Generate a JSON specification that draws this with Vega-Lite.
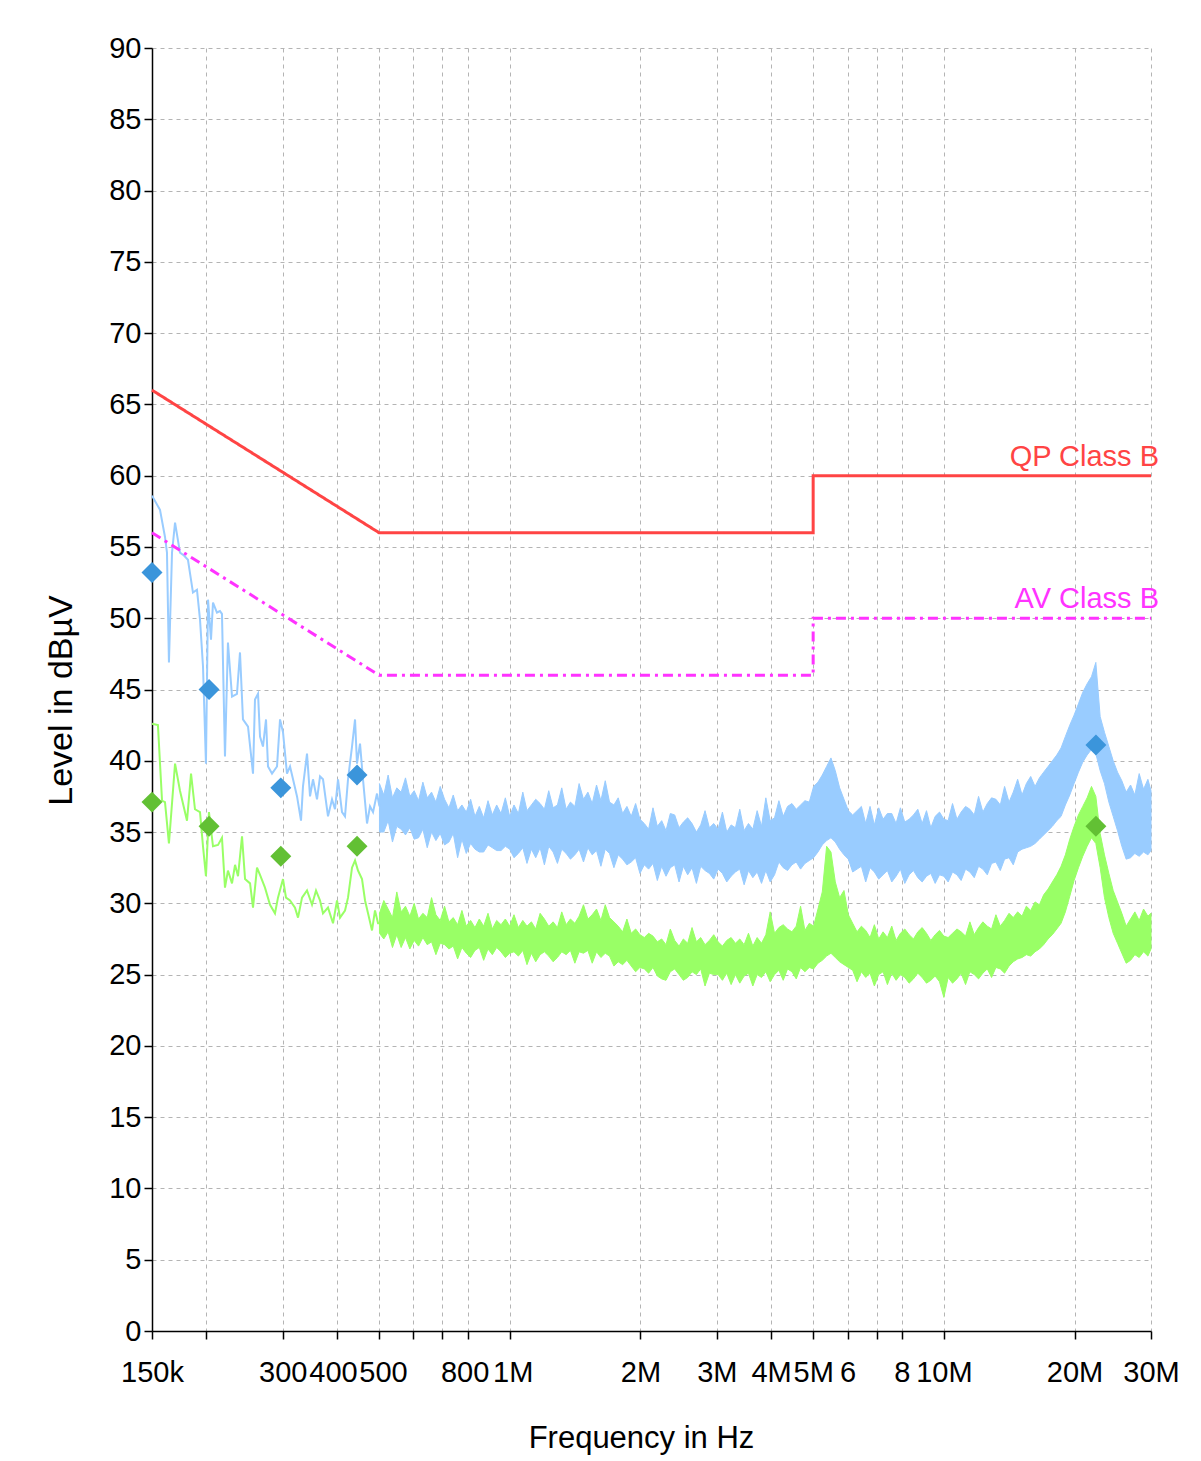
{
  "$schema": "https://vega.github.io/schema/vega-lite/v6.json",
  "width": 999,
  "height": 1283,
  "autosize": {"type": "none"},
  "padding": {"left": 152, "top": 48, "right": 50, "bottom": 130},
  "background": "white",
  "datasets": {
    "dense": [
      {"f":501.2,"pkHi":38.4,"pkLo":35.0,"avHi":29.3,"avLo":27.9},
      {"f":512.9,"pkHi":37.6,"pkLo":35.0,"avHi":30.2,"avLo":27.5},
      {"f":524.8,"pkHi":39.0,"pkLo":35.8,"avHi":29.6,"avLo":28.0},
      {"f":537.0,"pkHi":37.4,"pkLo":34.3,"avHi":29.0,"avLo":26.9},
      {"f":549.5,"pkHi":38.1,"pkLo":35.4,"avHi":30.8,"avLo":27.8},
      {"f":562.3,"pkHi":37.8,"pkLo":35.2,"avHi":29.4,"avLo":26.9},
      {"f":575.4,"pkHi":38.8,"pkLo":34.8,"avHi":29.8,"avLo":27.6},
      {"f":588.8,"pkHi":37.5,"pkLo":35.3,"avHi":29.1,"avLo":26.8},
      {"f":602.6,"pkHi":37.9,"pkLo":34.5,"avHi":30.0,"avLo":27.4},
      {"f":616.6,"pkHi":37.2,"pkLo":34.6,"avHi":28.9,"avLo":27.0},
      {"f":631.0,"pkHi":38.5,"pkLo":35.2,"avHi":29.3,"avLo":27.6},
      {"f":645.7,"pkHi":37.4,"pkLo":33.9,"avHi":29.0,"avLo":27.1},
      {"f":660.7,"pkHi":37.8,"pkLo":35.0,"avHi":30.4,"avLo":27.3},
      {"f":676.1,"pkHi":37.1,"pkLo":34.4,"avHi":29.2,"avLo":26.4},
      {"f":691.8,"pkHi":38.2,"pkLo":34.9,"avHi":28.8,"avLo":27.2},
      {"f":707.9,"pkHi":37.3,"pkLo":34.1,"avHi":29.8,"avLo":27.1},
      {"f":724.4,"pkHi":36.7,"pkLo":34.3,"avHi":28.7,"avLo":26.8},
      {"f":741.3,"pkHi":37.6,"pkLo":34.9,"avHi":29.0,"avLo":27.0},
      {"f":758.6,"pkHi":36.5,"pkLo":33.2,"avHi":28.5,"avLo":26.1},
      {"f":776.2,"pkHi":36.9,"pkLo":34.5,"avHi":29.5,"avLo":26.9},
      {"f":794.3,"pkHi":36.4,"pkLo":33.5,"avHi":28.4,"avLo":26.5},
      {"f":812.8,"pkHi":37.3,"pkLo":34.2,"avHi":28.8,"avLo":26.2},
      {"f":831.8,"pkHi":36.1,"pkLo":33.8,"avHi":28.3,"avLo":26.7},
      {"f":851.1,"pkHi":36.8,"pkLo":33.6,"avHi":28.9,"avLo":26.9},
      {"f":871.0,"pkHi":36.0,"pkLo":33.6,"avHi":28.4,"avLo":26.0},
      {"f":891.3,"pkHi":37.2,"pkLo":34.1,"avHi":29.3,"avLo":26.8},
      {"f":912.0,"pkHi":36.2,"pkLo":33.9,"avHi":28.2,"avLo":26.4},
      {"f":933.3,"pkHi":36.9,"pkLo":33.7,"avHi":28.8,"avLo":26.9},
      {"f":955.0,"pkHi":36.3,"pkLo":33.7,"avHi":28.5,"avLo":26.6},
      {"f":977.2,"pkHi":37.4,"pkLo":34.0,"avHi":28.9,"avLo":26.2},
      {"f":1000,"pkHi":36.1,"pkLo":33.8,"avHi":28.4,"avLo":26.5},
      {"f":1023,"pkHi":36.9,"pkLo":33.2,"avHi":29.2,"avLo":26.6},
      {"f":1047,"pkHi":36.3,"pkLo":33.5,"avHi":28.3,"avLo":26.3},
      {"f":1072,"pkHi":37.8,"pkLo":33.9,"avHi":28.8,"avLo":26.7},
      {"f":1096,"pkHi":36.5,"pkLo":32.8,"avHi":28.4,"avLo":25.7},
      {"f":1122,"pkHi":36.9,"pkLo":33.8,"avHi":28.7,"avLo":26.5},
      {"f":1148,"pkHi":37.3,"pkLo":33.2,"avHi":28.2,"avLo":25.9},
      {"f":1175,"pkHi":37.0,"pkLo":33.9,"avHi":29.3,"avLo":26.4},
      {"f":1202,"pkHi":36.6,"pkLo":32.7,"avHi":28.9,"avLo":26.6},
      {"f":1230,"pkHi":37.9,"pkLo":34.0,"avHi":28.4,"avLo":26.3},
      {"f":1259,"pkHi":36.7,"pkLo":33.6,"avHi":28.7,"avLo":25.9},
      {"f":1288,"pkHi":36.9,"pkLo":32.8,"avHi":28.3,"avLo":26.2},
      {"f":1318,"pkHi":38.1,"pkLo":33.8,"avHi":29.4,"avLo":26.6},
      {"f":1349,"pkHi":36.6,"pkLo":33.5,"avHi":28.5,"avLo":26.4},
      {"f":1380,"pkHi":37.1,"pkLo":33.1,"avHi":28.9,"avLo":26.7},
      {"f":1413,"pkHi":36.8,"pkLo":33.4,"avHi":28.6,"avLo":25.8},
      {"f":1445,"pkHi":38.4,"pkLo":33.8,"avHi":29.1,"avLo":26.6},
      {"f":1479,"pkHi":37.3,"pkLo":32.9,"avHi":29.9,"avLo":26.5},
      {"f":1514,"pkHi":37.8,"pkLo":33.9,"avHi":28.9,"avLo":26.7},
      {"f":1549,"pkHi":37.0,"pkLo":33.4,"avHi":29.2,"avLo":25.8},
      {"f":1585,"pkHi":38.3,"pkLo":33.7,"avHi":29.6,"avLo":26.6},
      {"f":1622,"pkHi":37.2,"pkLo":32.6,"avHi":28.8,"avLo":26.2},
      {"f":1660,"pkHi":38.6,"pkLo":33.8,"avHi":29.9,"avLo":26.5},
      {"f":1698,"pkHi":37.1,"pkLo":33.5,"avHi":29.0,"avLo":26.3},
      {"f":1738,"pkHi":36.9,"pkLo":32.5,"avHi":28.7,"avLo":25.6},
      {"f":1778,"pkHi":37.4,"pkLo":33.4,"avHi":28.4,"avLo":25.9},
      {"f":1820,"pkHi":36.3,"pkLo":33.1,"avHi":28.0,"avLo":25.7},
      {"f":1862,"pkHi":36.8,"pkLo":32.7,"avHi":28.9,"avLo":26.0},
      {"f":1905,"pkHi":36.1,"pkLo":32.9,"avHi":27.9,"avLo":25.6},
      {"f":1950,"pkHi":37.0,"pkLo":33.2,"avHi":28.2,"avLo":25.2},
      {"f":1995,"pkHi":35.9,"pkLo":32.1,"avHi":27.8,"avLo":25.5},
      {"f":2042,"pkHi":35.6,"pkLo":32.7,"avHi":27.6,"avLo":25.4},
      {"f":2089,"pkHi":35.2,"pkLo":32.4,"avHi":27.9,"avLo":25.1},
      {"f":2138,"pkHi":36.7,"pkLo":32.8,"avHi":27.7,"avLo":25.5},
      {"f":2188,"pkHi":35.4,"pkLo":31.6,"avHi":27.3,"avLo":24.9},
      {"f":2239,"pkHi":35.8,"pkLo":32.6,"avHi":27.5,"avLo":24.7},
      {"f":2291,"pkHi":35.1,"pkLo":31.9,"avHi":27.1,"avLo":24.6},
      {"f":2344,"pkHi":36.3,"pkLo":32.5,"avHi":28.2,"avLo":25.2},
      {"f":2399,"pkHi":36.2,"pkLo":32.7,"avHi":27.4,"avLo":25.4},
      {"f":2455,"pkHi":35.3,"pkLo":31.5,"avHi":27.0,"avLo":25.0},
      {"f":2512,"pkHi":35.7,"pkLo":32.6,"avHi":27.5,"avLo":24.6},
      {"f":2570,"pkHi":36.0,"pkLo":32.0,"avHi":27.2,"avLo":24.8},
      {"f":2630,"pkHi":35.6,"pkLo":32.5,"avHi":28.3,"avLo":25.2},
      {"f":2692,"pkHi":35.0,"pkLo":31.4,"avHi":27.3,"avLo":25.0},
      {"f":2754,"pkHi":35.5,"pkLo":32.6,"avHi":27.6,"avLo":25.4},
      {"f":2818,"pkHi":36.5,"pkLo":32.3,"avHi":27.1,"avLo":24.2},
      {"f":2884,"pkHi":35.3,"pkLo":32.1,"avHi":27.4,"avLo":25.1},
      {"f":2951,"pkHi":35.6,"pkLo":31.7,"avHi":27.8,"avLo":25.0},
      {"f":3020,"pkHi":35.2,"pkLo":32.4,"avHi":27.3,"avLo":25.0},
      {"f":3090,"pkHi":36.4,"pkLo":32.1,"avHi":27.0,"avLo":24.6},
      {"f":3162,"pkHi":35.0,"pkLo":31.5,"avHi":27.4,"avLo":25.1},
      {"f":3236,"pkHi":35.5,"pkLo":31.9,"avHi":27.6,"avLo":24.3},
      {"f":3311,"pkHi":35.3,"pkLo":32.2,"avHi":27.2,"avLo":25.0},
      {"f":3388,"pkHi":36.6,"pkLo":32.4,"avHi":27.5,"avLo":24.4},
      {"f":3467,"pkHi":35.1,"pkLo":31.3,"avHi":27.1,"avLo":24.9},
      {"f":3548,"pkHi":35.6,"pkLo":32.3,"avHi":27.9,"avLo":25.1},
      {"f":3631,"pkHi":35.2,"pkLo":31.8,"avHi":27.0,"avLo":24.2},
      {"f":3715,"pkHi":36.5,"pkLo":32.2,"avHi":27.6,"avLo":25.0},
      {"f":3802,"pkHi":35.4,"pkLo":31.4,"avHi":27.2,"avLo":24.8},
      {"f":3890,"pkHi":37.4,"pkLo":32.3,"avHi":27.8,"avLo":25.2},
      {"f":3981,"pkHi":35.8,"pkLo":31.5,"avHi":29.4,"avLo":24.5},
      {"f":4074,"pkHi":36.0,"pkLo":32.0,"avHi":27.9,"avLo":25.0},
      {"f":4169,"pkHi":37.2,"pkLo":32.9,"avHi":28.3,"avLo":25.3},
      {"f":4266,"pkHi":36.1,"pkLo":32.5,"avHi":28.5,"avLo":24.6},
      {"f":4365,"pkHi":36.8,"pkLo":32.3,"avHi":28.2,"avLo":25.4},
      {"f":4467,"pkHi":37.0,"pkLo":32.7,"avHi":28.0,"avLo":25.2},
      {"f":4571,"pkHi":36.6,"pkLo":32.9,"avHi":28.4,"avLo":24.7},
      {"f":4677,"pkHi":36.9,"pkLo":32.4,"avHi":29.8,"avLo":25.5},
      {"f":4786,"pkHi":37.2,"pkLo":32.8,"avHi":28.1,"avLo":25.2},
      {"f":4898,"pkHi":37.1,"pkLo":33.0,"avHi":28.6,"avLo":25.5},
      {"f":5012,"pkHi":38.2,"pkLo":33.2,"avHi":28.4,"avLo":25.4},
      {"f":5129,"pkHi":38.5,"pkLo":33.6,"avHi":29.6,"avLo":25.8},
      {"f":5248,"pkHi":39.0,"pkLo":34.1,"avHi":30.8,"avLo":26.0},
      {"f":5370,"pkHi":39.6,"pkLo":34.4,"avHi":34.0,"avLo":26.3},
      {"f":5495,"pkHi":40.2,"pkLo":34.6,"avHi":33.6,"avLo":26.5},
      {"f":5623,"pkHi":39.3,"pkLo":34.3,"avHi":31.5,"avLo":26.2},
      {"f":5754,"pkHi":38.1,"pkLo":33.8,"avHi":30.4,"avLo":25.9},
      {"f":5888,"pkHi":37.3,"pkLo":33.4,"avHi":30.9,"avLo":25.7},
      {"f":6026,"pkHi":36.5,"pkLo":33.1,"avHi":29.2,"avLo":25.5},
      {"f":6166,"pkHi":36.2,"pkLo":32.2,"avHi":28.6,"avLo":25.3},
      {"f":6310,"pkHi":36.5,"pkLo":32.4,"avHi":28.0,"avLo":24.5},
      {"f":6457,"pkHi":36.8,"pkLo":32.6,"avHi":28.4,"avLo":25.2},
      {"f":6607,"pkHi":35.6,"pkLo":31.5,"avHi":28.1,"avLo":24.8},
      {"f":6761,"pkHi":36.8,"pkLo":32.5,"avHi":27.6,"avLo":25.1},
      {"f":6918,"pkHi":35.5,"pkLo":32.2,"avHi":28.5,"avLo":24.2},
      {"f":7079,"pkHi":36.7,"pkLo":31.7,"avHi":27.5,"avLo":25.0},
      {"f":7244,"pkHi":35.9,"pkLo":32.0,"avHi":28.0,"avLo":25.2},
      {"f":7413,"pkHi":36.3,"pkLo":32.3,"avHi":27.6,"avLo":24.3},
      {"f":7586,"pkHi":36.3,"pkLo":31.5,"avHi":28.4,"avLo":25.1},
      {"f":7762,"pkHi":35.6,"pkLo":31.9,"avHi":27.4,"avLo":24.6},
      {"f":7943,"pkHi":36.7,"pkLo":32.4,"avHi":27.9,"avLo":25.0},
      {"f":8128,"pkHi":35.7,"pkLo":31.4,"avHi":28.2,"avLo":24.8},
      {"f":8318,"pkHi":35.9,"pkLo":32.0,"avHi":27.8,"avLo":24.4},
      {"f":8511,"pkHi":36.2,"pkLo":32.3,"avHi":27.5,"avLo":24.7},
      {"f":8710,"pkHi":36.6,"pkLo":31.8,"avHi":28.0,"avLo":25.1},
      {"f":8913,"pkHi":35.6,"pkLo":31.5,"avHi":28.3,"avLo":24.8},
      {"f":9120,"pkHi":36.5,"pkLo":31.9,"avHi":27.9,"avLo":24.4},
      {"f":9333,"pkHi":35.3,"pkLo":32.1,"avHi":27.4,"avLo":24.6},
      {"f":9550,"pkHi":36.1,"pkLo":31.4,"avHi":27.8,"avLo":24.9},
      {"f":9772,"pkHi":36.4,"pkLo":32.0,"avHi":28.1,"avLo":24.5},
      {"f":10000,"pkHi":35.9,"pkLo":31.9,"avHi":27.7,"avLo":23.4},
      {"f":10230,"pkHi":35.8,"pkLo":31.5,"avHi":27.6,"avLo":24.8},
      {"f":10470,"pkHi":37.0,"pkLo":32.2,"avHi":27.9,"avLo":24.4},
      {"f":10720,"pkHi":35.9,"pkLo":32.0,"avHi":28.2,"avLo":24.7},
      {"f":10960,"pkHi":36.4,"pkLo":31.6,"avHi":28.0,"avLo":25.1},
      {"f":11220,"pkHi":36.8,"pkLo":32.4,"avHi":27.7,"avLo":24.3},
      {"f":11480,"pkHi":36.6,"pkLo":32.2,"avHi":28.7,"avLo":25.2},
      {"f":11750,"pkHi":36.2,"pkLo":31.8,"avHi":27.8,"avLo":25.0},
      {"f":12020,"pkHi":37.5,"pkLo":32.6,"avHi":28.3,"avLo":24.7},
      {"f":12300,"pkHi":36.4,"pkLo":32.4,"avHi":28.7,"avLo":25.1},
      {"f":12590,"pkHi":37.0,"pkLo":32.0,"avHi":28.4,"avLo":25.4},
      {"f":12880,"pkHi":37.4,"pkLo":32.8,"avHi":28.2,"avLo":24.8},
      {"f":13180,"pkHi":37.3,"pkLo":32.9,"avHi":29.2,"avLo":25.5},
      {"f":13490,"pkHi":36.9,"pkLo":32.3,"avHi":28.4,"avLo":25.4},
      {"f":13800,"pkHi":38.2,"pkLo":33.1,"avHi":28.8,"avLo":25.1},
      {"f":14130,"pkHi":37.1,"pkLo":33.2,"avHi":29.3,"avLo":25.6},
      {"f":14450,"pkHi":37.8,"pkLo":32.7,"avHi":29.0,"avLo":25.9},
      {"f":14790,"pkHi":38.7,"pkLo":33.6,"avHi":29.4,"avLo":26.1},
      {"f":15140,"pkHi":37.6,"pkLo":33.8,"avHi":29.1,"avLo":26.2},
      {"f":15490,"pkHi":38.4,"pkLo":33.9,"avHi":29.8,"avLo":26.4},
      {"f":15850,"pkHi":38.9,"pkLo":34.0,"avHi":29.5,"avLo":26.3},
      {"f":16220,"pkHi":38.2,"pkLo":34.2,"avHi":30.1,"avLo":26.6},
      {"f":16600,"pkHi":38.8,"pkLo":34.5,"avHi":29.9,"avLo":26.8},
      {"f":16980,"pkHi":39.2,"pkLo":34.8,"avHi":30.6,"avLo":27.1},
      {"f":17380,"pkHi":39.6,"pkLo":35.1,"avHi":31.0,"avLo":27.5},
      {"f":17780,"pkHi":40.0,"pkLo":35.4,"avHi":31.5,"avLo":27.8},
      {"f":18200,"pkHi":40.4,"pkLo":35.8,"avHi":32.0,"avLo":28.2},
      {"f":18620,"pkHi":40.9,"pkLo":36.1,"avHi":32.6,"avLo":28.6},
      {"f":19050,"pkHi":41.7,"pkLo":36.9,"avHi":33.4,"avLo":29.4},
      {"f":19500,"pkHi":42.5,"pkLo":37.6,"avHi":34.5,"avLo":30.5},
      {"f":19950,"pkHi":43.2,"pkLo":38.4,"avHi":35.4,"avLo":31.6},
      {"f":20420,"pkHi":44.0,"pkLo":39.2,"avHi":36.2,"avLo":32.5},
      {"f":20890,"pkHi":44.8,"pkLo":39.9,"avHi":36.8,"avLo":33.3},
      {"f":21380,"pkHi":45.4,"pkLo":40.4,"avHi":37.4,"avLo":34.0},
      {"f":21880,"pkHi":45.9,"pkLo":40.8,"avHi":38.2,"avLo":34.6},
      {"f":22390,"pkHi":46.9,"pkLo":40.5,"avHi":37.5,"avLo":34.2},
      {"f":22910,"pkHi":43.1,"pkLo":39.3,"avHi":34.9,"avLo":32.5},
      {"f":23440,"pkHi":42.0,"pkLo":38.4,"avHi":33.4,"avLo":30.4},
      {"f":23990,"pkHi":41.0,"pkLo":37.1,"avHi":32.1,"avLo":29.0},
      {"f":24550,"pkHi":40.0,"pkLo":36.1,"avHi":30.9,"avLo":27.9},
      {"f":25120,"pkHi":39.2,"pkLo":35.1,"avHi":30.1,"avLo":27.2},
      {"f":25700,"pkHi":38.6,"pkLo":34.0,"avHi":29.3,"avLo":26.5},
      {"f":26300,"pkHi":37.8,"pkLo":33.1,"avHi":28.4,"avLo":25.8},
      {"f":26920,"pkHi":38.3,"pkLo":33.2,"avHi":28.9,"avLo":26.0},
      {"f":27540,"pkHi":37.6,"pkLo":33.5,"avHi":29.4,"avLo":26.4},
      {"f":28180,"pkHi":39.1,"pkLo":33.3,"avHi":28.8,"avLo":26.2},
      {"f":28840,"pkHi":38.0,"pkLo":33.6,"avHi":29.6,"avLo":26.6},
      {"f":29510,"pkHi":38.7,"pkLo":33.4,"avHi":29.1,"avLo":26.3},
      {"f":30000,"pkHi":37.9,"pkLo":33.7,"avHi":29.3,"avLo":26.8}
    ],
    "pkLow": [
      {"f":150.0,"v":58.6},{"f":156.5,"v":57.6},{"f":160.7,"v":55.7},{"f":162.4,"v":54.6},
      {"f":164.1,"v":46.9},{"f":166.8,"v":54.6},{"f":169.5,"v":56.7},{"f":174.0,"v":54.6},
      {"f":177.7,"v":54.4},{"f":181.5,"v":54.1},{"f":186.4,"v":51.8},{"f":190.4,"v":52.0},
      {"f":193.5,"v":49.9},{"f":196.6,"v":46.6},{"f":199.7,"v":39.8},{"f":201.9,"v":51.3},
      {"f":205.1,"v":48.5},{"f":207.3,"v":51.1},{"f":211.7,"v":50.4},{"f":215.1,"v":50.5},
      {"f":217.4,"v":50.3},{"f":220.9,"v":40.3},{"f":224.4,"v":48.3},{"f":229.3,"v":44.5},
      {"f":235.4,"v":44.7},{"f":239.2,"v":47.6},{"f":243.0,"v":42.9},{"f":249.6,"v":42.4},
      {"f":256.3,"v":39.1},{"f":259.0,"v":44.3},{"f":263.2,"v":44.7},{"f":266.0,"v":41.7},
      {"f":270.2,"v":41.0},{"f":274.6,"v":42.9},{"f":277.5,"v":39.6},{"f":283.5,"v":39.1},
      {"f":291.1,"v":39.6},{"f":295.8,"v":42.9},{"f":300.5,"v":42.0},{"f":306.9,"v":39.1},
      {"f":311.9,"v":39.6},{"f":316.9,"v":38.7},{"f":323.7,"v":37.5},{"f":330.6,"v":35.8},
      {"f":334.1,"v":38.2},{"f":341.3,"v":40.5},{"f":346.8,"v":37.5},{"f":352.3,"v":38.7},
      {"f":359.9,"v":37.3},{"f":365.7,"v":38.9},{"f":371.5,"v":38.7},{"f":381.5,"v":36.1},
      {"f":389.7,"v":37.3},{"f":395.9,"v":36.6},{"f":402.3,"v":38.7},{"f":410.9,"v":36.4},
      {"f":417.5,"v":36.1},{"f":424.2,"v":38.7},{"f":433.3,"v":41.0},{"f":440.3,"v":42.9},
      {"f":444.9,"v":39.8},{"f":452.1,"v":41.2},{"f":459.3,"v":38.7},{"f":469.2,"v":35.6},
      {"f":476.7,"v":36.8},{"f":484.4,"v":36.4},{"f":494.7,"v":37.7},{"f":501.2,"v":36.8}
    ],
    "avLow": [
      {"f":150.0,"v":42.6},{"f":154.8,"v":42.5},{"f":158.2,"v":37.2},{"f":160.7,"v":37.1},
      {"f":164.1,"v":34.2},{"f":169.5,"v":39.8},{"f":174.0,"v":37.9},{"f":180.6,"v":35.8},
      {"f":184.5,"v":39.1},{"f":188.4,"v":36.6},{"f":193.5,"v":36.4},{"f":196.6,"v":34.0},
      {"f":199.7,"v":31.9},{"f":202.9,"v":36.4},{"f":207.3,"v":34.0},{"f":212.9,"v":34.1},
      {"f":217.4,"v":34.6},{"f":220.9,"v":31.1},{"f":224.4,"v":32.3},{"f":229.3,"v":31.4},
      {"f":233.0,"v":32.7},{"f":236.7,"v":31.9},{"f":241.8,"v":34.7},{"f":245.7,"v":31.7},
      {"f":252.3,"v":31.4},{"f":256.3,"v":29.7},{"f":261.8,"v":32.5},{"f":266.0,"v":32.0},
      {"f":273.1,"v":31.1},{"f":280.5,"v":29.9},{"f":288.0,"v":29.3},{"f":292.6,"v":30.4},
      {"f":300.5,"v":31.7},{"f":305.3,"v":30.4},{"f":311.9,"v":30.2},{"f":320.2,"v":29.7},
      {"f":325.4,"v":29.0},{"f":332.4,"v":30.4},{"f":341.3,"v":30.9},{"f":350.5,"v":29.9},
      {"f":358.0,"v":30.9},{"f":365.7,"v":30.2},{"f":371.5,"v":29.3},{"f":381.5,"v":29.7},
      {"f":391.8,"v":28.6},{"f":400.2,"v":30.2},{"f":406.6,"v":29.0},{"f":417.5,"v":29.5},
      {"f":424.2,"v":30.4},{"f":433.3,"v":32.5},{"f":440.3,"v":33.0},{"f":447.3,"v":32.3},
      {"f":456.9,"v":31.7},{"f":464.3,"v":30.2},{"f":471.7,"v":29.3},{"f":481.8,"v":28.1},
      {"f":489.5,"v":29.5},{"f":497.4,"v":28.6},{"f":501.2,"v":28.6}
    ],
    "limits": [
      {"lim":"QP Class B","i":0,"f":150,"v":66},
      {"lim":"QP Class B","i":1,"f":500,"v":56},
      {"lim":"QP Class B","i":2,"f":5000,"v":56},
      {"lim":"QP Class B","i":3,"f":5000,"v":60},
      {"lim":"QP Class B","i":4,"f":30000,"v":60},
      {"lim":"AV Class B","i":0,"f":150,"v":56},
      {"lim":"AV Class B","i":1,"f":500,"v":46},
      {"lim":"AV Class B","i":2,"f":5000,"v":46},
      {"lim":"AV Class B","i":3,"f":5000,"v":50},
      {"lim":"AV Class B","i":4,"f":30000,"v":50}
    ],
    "finals": [
      {"det":"PK","f":150,"v":53.2},
      {"det":"PK","f":203,"v":45.0},
      {"det":"PK","f":297,"v":38.1},
      {"det":"PK","f":445,"v":39.0},
      {"det":"PK","f":22400,"v":41.1},
      {"det":"AV","f":150,"v":37.1},
      {"det":"AV","f":203,"v":35.4},
      {"det":"AV","f":297,"v":33.3},
      {"det":"AV","f":445,"v":34.0},
      {"det":"AV","f":22400,"v":35.4}
    ],
    "limitLabels": [
      {"lim":"QP Class B","f":30000,"v":60.7},
      {"lim":"AV Class B","f":30000,"v":50.7}
    ]
  },
  "layer": [
    {
      "data": {"name": "dense"},
      "mark": {"type": "area", "color": "#99ccff", "stroke": "#99ccff", "strokeWidth": 1},
      "encoding": {
        "x": {
          "field": "f",
          "type": "quantitative",
          "scale": {"type": "log", "domain": [150, 30000], "nice": false},
          "axis": {
            "title": "Frequency in Hz",
            "values": [150, 200, 300, 400, 500, 600, 700, 800, 1000, 2000, 3000, 4000, 5000, 6000, 7000, 8000, 10000, 20000, 30000],
            "labelExpr": "datum.value == 150 ? '150k' : indexof([300,400,500,800], datum.value) >= 0 ? '' + datum.value : indexof([1000,2000,3000,4000,5000,10000,20000,30000], datum.value) >= 0 ? (datum.value / 1000) + 'M' : indexof([6000,8000], datum.value) >= 0 ? '' + (datum.value / 1000) : ''",
            "labelOffset": {"expr": "datum.value == 400 ? -4 : datum.value == 500 ? 4 : datum.value == 800 ? -3 : datum.value == 1000 ? 3 : 0"},
            "labelOverlap": false,
            "labelFlush": false,
            "labelBound": false,
            "labelPadding": 19,
            "titlePadding": 36,
            "titleX": 489
          }
        },
        "y": {
          "field": "pkHi",
          "type": "quantitative",
          "scale": {"domain": [0, 90], "nice": false},
          "axis": {
            "title": "Level in dBµV",
            "values": [0, 2.5, 5, 7.5, 10, 12.5, 15, 17.5, 20, 22.5, 25, 27.5, 30, 32.5, 35, 37.5, 40, 42.5, 45, 47.5, 50, 52.5, 55, 57.5, 60, 62.5, 65, 67.5, 70, 72.5, 75, 77.5, 80, 82.5, 85, 87.5, 90],
            "labelExpr": "datum.value % 5 == 0 ? datum.label : ''",
            "labelPadding": 3,
            "titlePadding": 30,
            "titleFontSize": 34,
            "titleY": 652
          }
        },
        "y2": {"field": "pkLo"}
      }
    },
    {
      "data": {"name": "pkLow"},
      "mark": {"type": "line", "color": "#99ccff", "strokeWidth": 2},
      "encoding": {
        "x": {"field": "f", "type": "quantitative"},
        "y": {"field": "v", "type": "quantitative"}
      }
    },
    {
      "data": {"name": "dense"},
      "mark": {"type": "area", "color": "#99ff66", "stroke": "#99ff66", "strokeWidth": 1},
      "encoding": {
        "x": {"field": "f", "type": "quantitative"},
        "y": {"field": "avHi", "type": "quantitative"},
        "y2": {"field": "avLo"}
      }
    },
    {
      "data": {"name": "avLow"},
      "mark": {"type": "line", "color": "#99ff66", "strokeWidth": 2},
      "encoding": {
        "x": {"field": "f", "type": "quantitative"},
        "y": {"field": "v", "type": "quantitative"}
      }
    },
    {
      "data": {"name": "limits"},
      "mark": {"type": "line", "strokeWidth": 3},
      "encoding": {
        "x": {"field": "f", "type": "quantitative"},
        "y": {"field": "v", "type": "quantitative"},
        "order": {"field": "i"},
        "color": {
          "field": "lim",
          "type": "nominal",
          "scale": {"domain": ["QP Class B", "AV Class B"], "range": ["#ff4444", "#ff33ff"]},
          "legend": null
        },
        "strokeDash": {
          "field": "lim",
          "type": "nominal",
          "scale": {"domain": ["QP Class B", "AV Class B"], "range": [[1, 0], [10, 5, 3, 5]]},
          "legend": null
        }
      }
    },
    {
      "data": {"name": "finals"},
      "mark": {"type": "point", "shape": "diamond", "filled": true, "size": 440, "opacity": 1},
      "encoding": {
        "x": {"field": "f", "type": "quantitative"},
        "y": {"field": "v", "type": "quantitative"},
        "fill": {
          "field": "det",
          "type": "nominal",
          "scale": {"domain": ["PK", "AV"], "range": ["#3b95db", "#62c034"]},
          "legend": null
        }
      }
    },
    {
      "data": {"name": "limitLabels"},
      "mark": {"type": "text", "align": "right", "baseline": "alphabetic", "dx": 8, "font": "Liberation Sans, Arial, sans-serif", "fontSize": 29},
      "encoding": {
        "x": {"field": "f", "type": "quantitative"},
        "y": {"field": "v", "type": "quantitative"},
        "text": {"field": "lim"},
        "color": {
          "field": "lim",
          "type": "nominal",
          "scale": {"domain": ["QP Class B", "AV Class B"], "range": ["#ff4444", "#ff33ff"]},
          "legend": null
        }
      }
    }
  ],
  "config": {
    "view": {"stroke": null},
    "axis": {
      "domainColor": "#000000",
      "domainWidth": 1.5,
      "tickColor": "#000000",
      "tickWidth": 1.5,
      "tickSize": 8,
      "grid": true,
      "gridColor": "#b4b4b4",
      "gridDash": [4, 4],
      "gridWidth": 1,
      "labelColor": "#000000",
      "labelFont": "Liberation Sans, Arial, sans-serif",
      "labelFontSize": 29,
      "titleColor": "#000000",
      "titleFont": "Liberation Sans, Arial, sans-serif",
      "titleFontSize": 31,
      "titleFontWeight": "normal"
    }
  }
}
